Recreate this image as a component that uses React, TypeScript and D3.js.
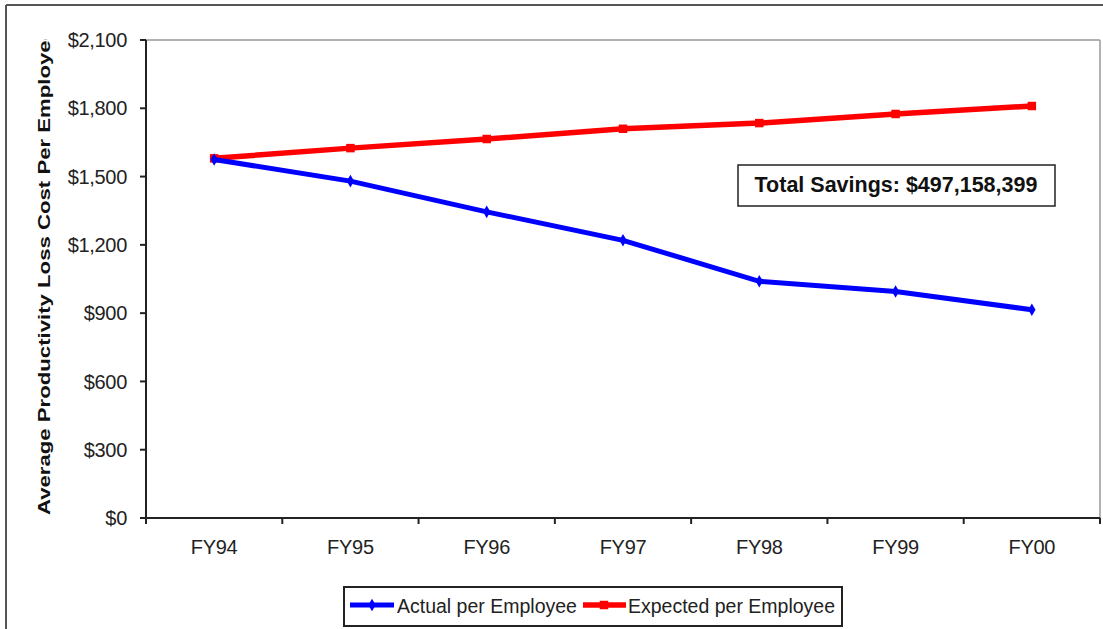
import React from "react";
import * as d3 from "d3";

const categories = ["FY94", "FY95", "FY96", "FY97", "FY98", "FY99", "FY00"];
const actualPerEmployee = [1575, 1480, 1345, 1220, 1040, 995, 915];
const expectedPerEmployee = [1580, 1625, 1665, 1710, 1735, 1775, 1810];
const yTicks = [0, 300, 600, 900, 1200, 1500, 1800, 2100];
const savingsLabel = "Total Savings: $497,158,399";
const yTitle = "Average Productivity Loss Cost Per Employee";
const seriesNames = ["Actual per Employee", "Expected per Employee"];

const W = 1103;
const H = 629;
const plot = { left: 146, right: 1100, top: 40, bottom: 518 };
const FONT = "Arial, 'Liberation Sans', Helvetica, sans-serif";
const BLUE = "#0000ff";
const RED = "#ff0000";

const fmt = (v: number) => "$" + d3.format(",")(v);

export default function App() {
  const x = d3
    .scaleBand<string>()
    .domain(categories)
    .range([plot.left, plot.right])
    .paddingInner(0)
    .paddingOuter(0);
  const y = d3.scaleLinear().domain([0, 2100]).range([plot.bottom, plot.top]);
  const cx = (c: string) => (x(c) as number) + x.bandwidth() / 2;

  const line = d3
    .line<number>()
    .x((_, i) => cx(categories[i]))
    .y((v) => y(v));

  const diamond = d3.symbol().type(d3.symbolDiamond).size(46)() as string;
  const square = d3.symbol().type(d3.symbolSquare).size(72)() as string;

  const boundaries = d3.range(categories.length + 1).map((i) => plot.left + i * x.bandwidth());

  return (
    <div style={{ position: "fixed", left: 0, top: 0 }}>
      <svg width={W} height={H} style={{ display: "block", background: "#fff" }} fontFamily={FONT}>
        <defs>
          <clipPath id="titleClip">
            <rect x={0} y={39} width={120} height={H} />
          </clipPath>
        </defs>
        {/* outer chart frame */}
        <line x1={6} y1={5} x2={W} y2={5} stroke="#555" strokeWidth={2} />
        <line x1={6} y1={5} x2={6} y2={H} stroke="#555" strokeWidth={2} />

        {/* plot area border */}
        <line x1={plot.left} y1={plot.top} x2={plot.right} y2={plot.top} stroke="#999" strokeWidth={1.5} />
        <line x1={plot.right} y1={plot.top} x2={plot.right} y2={plot.bottom} stroke="#999" strokeWidth={1.5} />

        {/* y axis */}
        <line x1={plot.left} y1={plot.top} x2={plot.left} y2={plot.bottom} stroke="#222" strokeWidth={2} />
        {yTicks.map((t) => (
          <g key={t}>
            <line x1={plot.left - 6} x2={plot.left} y1={y(t)} y2={y(t)} stroke="#222" strokeWidth={2} />
            <text x={127} y={y(t)} dy="0.36em" textAnchor="end" fontSize={20} fill="#222" letterSpacing={-0.3}>
              {fmt(t)}
            </text>
          </g>
        ))}

        {/* x axis */}
        <line x1={plot.left} y1={plot.bottom} x2={plot.right} y2={plot.bottom} stroke="#222" strokeWidth={2} />
        {boundaries.map((bx, i) => (
          <line key={i} x1={bx} x2={bx} y1={plot.bottom} y2={plot.bottom + 6} stroke="#222" strokeWidth={2} />
        ))}
        {categories.map((c) => (
          <text key={c} x={cx(c)} y={554} textAnchor="middle" fontSize={20} fill="#222" letterSpacing={-0.3}>
            {c}
          </text>
        ))}

        {/* y axis title */}
        <g clipPath="url(#titleClip)">
          <text
            transform={`translate(50,515) rotate(-90)`}
            fontSize={17}
            fontWeight="bold"
            fill="#111"
            textLength={487}
            lengthAdjust="spacingAndGlyphs"
          >
            {yTitle}
          </text>
        </g>

        {/* series */}
        <path d={line(expectedPerEmployee) as string} fill="none" stroke={RED} strokeWidth={5.5} />
        {expectedPerEmployee.map((v, i) => (
          <path key={i} d={square} transform={`translate(${cx(categories[i])},${y(v)})`} fill={RED} />
        ))}
        <path d={line(actualPerEmployee) as string} fill="none" stroke={BLUE} strokeWidth={5} />
        {actualPerEmployee.map((v, i) => (
          <path key={i} d={diamond} transform={`translate(${cx(categories[i])},${y(v)})`} fill={BLUE} />
        ))}

        {/* savings annotation */}
        <rect x={738} y={165} width={317} height={41} fill="#fff" stroke="#222" strokeWidth={1.5} />
        <text x={896} y={192} textAnchor="middle" fontSize={21.5} fontWeight="bold" fill="#111">
          {savingsLabel}
        </text>

        {/* legend */}
        <rect x={344} y={587} width={498} height={39} fill="#fff" stroke="#222" strokeWidth={2} />
        <line x1={350} x2={394} y1={605} y2={605} stroke={BLUE} strokeWidth={5} />
        <path d={diamond} transform="translate(372,605)" fill={BLUE} />
        <text x={397} y={613} fontSize={19.5} fill="#222">
          {seriesNames[0]}
        </text>
        <line x1={583} x2={626} y1={605} y2={605} stroke={RED} strokeWidth={5.5} />
        <path d={square} transform="translate(604,605)" fill={RED} />
        <text x={628} y={613} fontSize={19.5} fill="#222">
          {seriesNames[1]}
        </text>
      </svg>
    </div>
  );
}
